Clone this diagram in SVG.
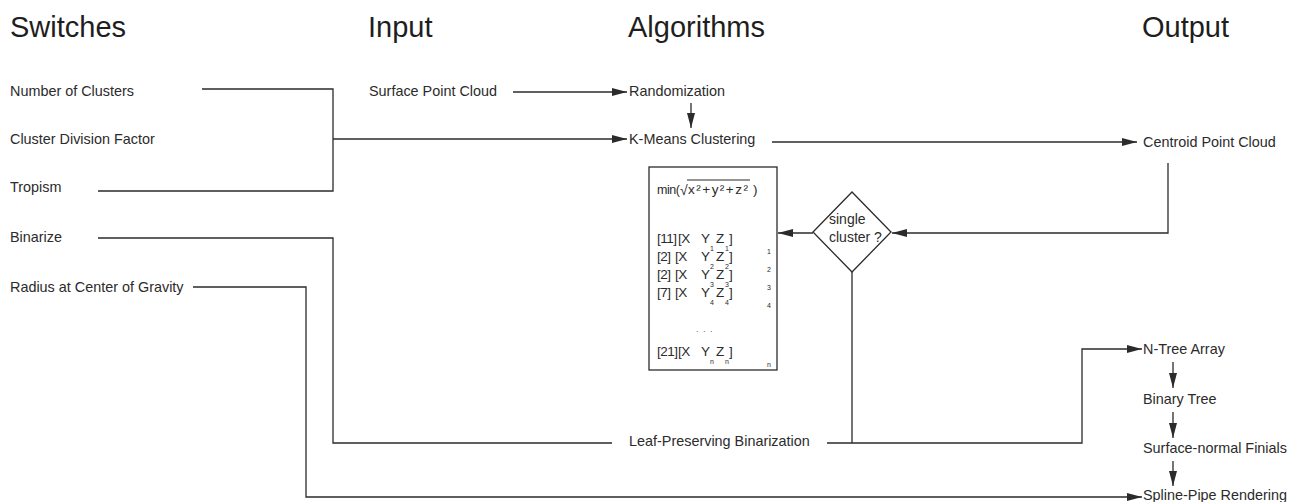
<svg xmlns="http://www.w3.org/2000/svg" width="1290" height="502" viewBox="0 0 1290 502">
<style>
text{font-family:"Liberation Sans",Arial,"DejaVu Sans",sans-serif;fill:#2b2b2b}
.h{font-size:29px;fill:#1e1e1e}
.t{font-size:14.4px}
.f{font-size:13.5px;letter-spacing:-0.5px}
.s{font-size:7px}
.c{fill:none;stroke:#2b2b2b;stroke-width:1.3}
.b{fill:#fff;stroke:#2b2b2b;stroke-width:1.3}
</style>
<defs>
<marker id="ah" viewBox="0 0 15 8" refX="15" refY="4" markerWidth="15" markerHeight="8" orient="auto" markerUnits="userSpaceOnUse">
<path d="M0,0 L15,4 L0,8 z" fill="#2b2b2b"/>
</marker>
</defs>
<rect width="1290" height="502" fill="#fff"/>
<g id="headings">
<text class="h" x="10" y="37">Switches</text>
<text class="h" x="368" y="37">Input</text>
<text class="h" x="628" y="37">Algorithms</text>
<text class="h" x="1142" y="37">Output</text>
</g>
<g id="connectors">
<path class="c" d="M202,89 H333 V191 H98"/>
<path class="c" d="M333,139 H627" marker-end="url(#ah)"/>
<path class="c" d="M513,92 H627" marker-end="url(#ah)"/>
<path class="c" d="M691,103 V128" marker-end="url(#ah)"/>
<path class="c" d="M772,142 H1137" marker-end="url(#ah)"/>
<path class="c" d="M1168,163 V233 H892" marker-end="url(#ah)"/>
<path class="c" d="M813,233 H778" marker-end="url(#ah)"/>
<path class="c" d="M852,272 V443"/>
<path class="c" d="M98,238 H333 V443 H612"/>
<path class="c" d="M827,443 H1082 V349 H1142" marker-end="url(#ah)"/>
<path class="c" d="M193,287 H306 V497 H1142" marker-end="url(#ah)"/>
<path class="c" d="M1173,362 V388" marker-end="url(#ah)"/>
<path class="c" d="M1173,412 V438" marker-end="url(#ah)"/>
<path class="c" d="M1173,461 V486" marker-end="url(#ah)"/>
</g>
<g id="n-number-of-clusters"><text class="t" x="10" y="96">Number of Clusters</text></g>
<g id="n-cluster-division-factor"><text class="t" x="10" y="144">Cluster Division Factor</text></g>
<g id="n-tropism"><text class="t" x="10" y="192">Tropism</text></g>
<g id="n-binarize"><text class="t" x="10" y="242">Binarize</text></g>
<g id="n-radius"><text class="t" x="10" y="292">Radius at Center of Gravity</text></g>
<g id="n-surface-point-cloud"><text class="t" x="369" y="96">Surface Point Cloud</text></g>
<g id="n-randomization"><text class="t" x="629" y="96">Randomization</text></g>
<g id="n-kmeans"><text class="t" x="629" y="144">K-Means Clustering</text></g>
<g id="n-centroid"><text class="t" x="1143" y="147">Centroid Point Cloud</text></g>
<g id="n-box">
<rect class="b" x="649" y="167" width="128" height="203"/>
<text x="657" y="194" style="font-size:12.5px;letter-spacing:-0.5px">min(</text>
<text x="680" y="195" style="font-size:14px">√</text>
<line x1="687" y1="180" x2="750" y2="180" stroke="#2b2b2b" stroke-width="1"/>
<text x="688" y="194" style="font-size:13.5px" textLength="60" lengthAdjust="spacing">x²+y²+z²</text>
<text class="f" x="753" y="194">)</text>
<g id="row1">
<text class="f" x="657" y="243">[11]</text><text class="f" x="678" y="243">[X</text><text class="f" x="701" y="243">Y</text><text class="s" x="710" y="251">1</text><text class="f" x="716" y="243">Z</text><text class="s" x="725" y="251">1</text><text class="f" x="729" y="243">]</text><text class="s" x="767" y="254">1</text>
</g>
<g id="row2">
<text class="f" x="657" y="261">[2]</text><text class="f" x="675" y="261">[X</text><text class="f" x="701" y="261">Y</text><text class="s" x="710" y="269">2</text><text class="f" x="716" y="261">Z</text><text class="s" x="725" y="269">2</text><text class="f" x="729" y="261">]</text><text class="s" x="767" y="272">2</text>
</g>
<g id="row3">
<text class="f" x="657" y="279">[2]</text><text class="f" x="675" y="279">[X</text><text class="f" x="701" y="279">Y</text><text class="s" x="710" y="287">3</text><text class="f" x="716" y="279">Z</text><text class="s" x="725" y="287">3</text><text class="f" x="729" y="279">]</text><text class="s" x="767" y="290">3</text>
</g>
<g id="row4">
<text class="f" x="657" y="297">[7]</text><text class="f" x="675" y="297">[X</text><text class="f" x="701" y="297">Y</text><text class="s" x="710" y="305">4</text><text class="f" x="716" y="297">Z</text><text class="s" x="725" y="305">4</text><text class="f" x="729" y="297">]</text><text class="s" x="767" y="308">4</text>
</g>
<text x="696" y="332" style="font-size:9px;fill:#4a5aa0;letter-spacing:1px">. . .</text>
<g id="row5">
<text class="f" x="657" y="356">[21]</text><text class="f" x="678" y="356">[X</text><text class="f" x="701" y="356">Y</text><text class="s" x="710" y="364">n</text><text class="f" x="716" y="356">Z</text><text class="s" x="725" y="364">n</text><text class="f" x="729" y="356">]</text><text class="s" x="767" y="367">n</text>
</g>
</g>
<g id="n-single-cluster">
<path class="b" d="M852,192 L891,232 L852,272 L813,232 z"/>
<text x="829" y="224" style="font-size:14px">single</text>
<text x="829" y="242" style="font-size:14px">cluster ?</text>
</g>
<g id="n-leaf"><text class="t" x="629" y="446">Leaf-Preserving Binarization</text></g>
<g id="n-ntree"><text class="t" x="1143" y="354">N-Tree Array</text></g>
<g id="n-binary-tree"><text class="t" x="1143" y="404">Binary Tree</text></g>
<g id="n-finials"><text class="t" x="1143" y="453">Surface-normal Finials</text></g>
<g id="n-spline"><text class="t" x="1143" y="500">Spline-Pipe Rendering</text></g>
</svg>
